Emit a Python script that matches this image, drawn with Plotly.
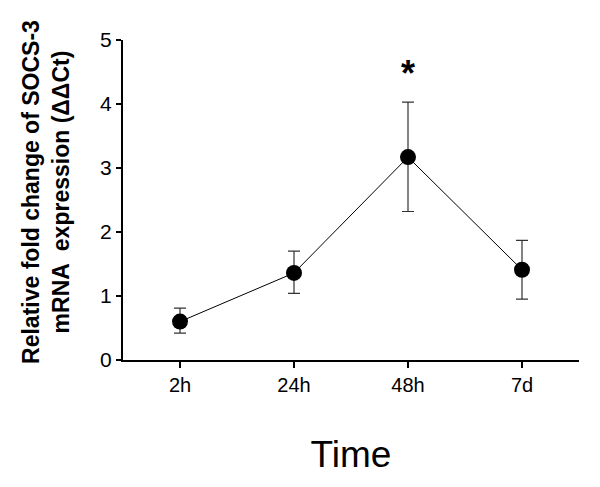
import plotly.graph_objects as go

categories = ["2h", "24h", "48h", "7d"]
means = [0.60, 1.36, 3.17, 1.41]
err_upper = [0.21, 0.34, 0.86, 0.46]
err_lower = [0.18, 0.32, 0.85, 0.46]
sig_labels = ["", "", "<b>*</b>", ""]
sig_y = [None, None, 4.42, None]
y_ticks = [0, 1, 2, 3, 4, 5]

FONT = "Liberation Sans, Arial, sans-serif"

fig = go.Figure()
fig.add_trace(go.Scatter(
    x=categories, y=means, mode="lines+markers",
    line=dict(color="black", width=1),
    marker=dict(color="black", size=16),
    error_y=dict(type="data", symmetric=False, array=err_upper, arrayminus=err_lower,
                 color="#333333", thickness=1.2, width=6),
    showlegend=False, hoverinfo="skip",
))
fig.add_trace(go.Scatter(
    x=categories, y=sig_y, mode="text", text=sig_labels,
    textfont=dict(family=FONT, size=36, color="black"),
    textposition="middle center", showlegend=False, hoverinfo="skip",
))

fig.update_layout(
    width=600, height=487,
    margin=dict(l=123, r=21, t=40, b=127, autoexpand=False),
    paper_bgcolor="white", plot_bgcolor="white",
    font=dict(family=FONT, color="black"),
    xaxis=dict(
        type="category", range=[-0.5, 3.5],
        showline=True, linecolor="black", linewidth=2,
        ticks="outside", ticklen=6, tickwidth=1.5, tickcolor="black",
        tickfont=dict(size=20), showgrid=False, zeroline=False,
        title=dict(text="Time", font=dict(size=37), standoff=46),
    ),
    yaxis=dict(
        range=[0, 5], tickvals=y_ticks,
        showline=True, linecolor="black", linewidth=2,
        ticks="outside", ticklen=5, tickwidth=1.5, tickcolor="black",
        tickfont=dict(size=21), showgrid=False, zeroline=False,
    ),
    annotations=[dict(
        text="<b>Relative fold change of SOCS-3<br>mRNA  expression (ΔΔCt)</b>",
        xref="paper", yref="paper", x=-0.169, y=0.525,
        xanchor="center", yanchor="middle", textangle=-90, showarrow=False,
        font=dict(size=23, family=FONT, color="black"),
    )],
)

fig.write_html("out.html", config={"displayModeBar": False},
               post_script="document.body.style.margin='0';document.body.style.padding='0';")
